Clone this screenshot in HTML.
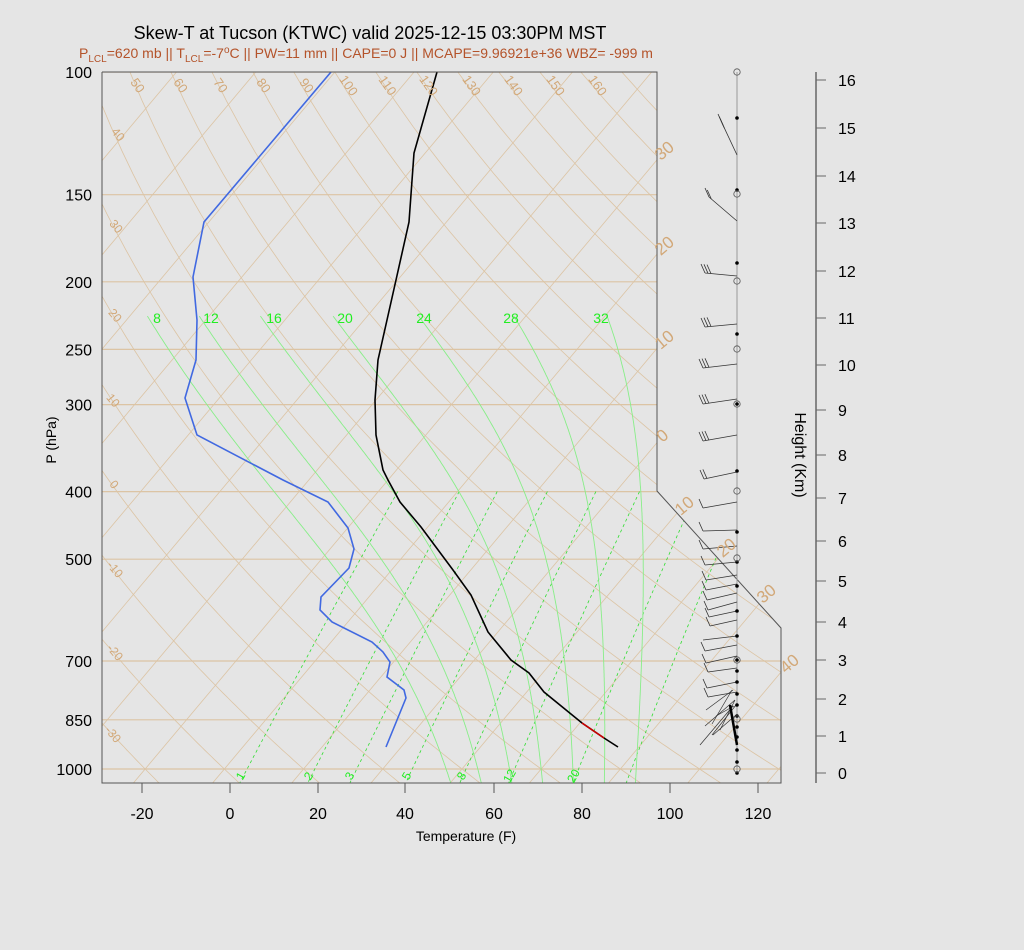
<!DOCTYPE html>
<html><head><meta charset="utf-8"><style>
html,body{margin:0;padding:0;background:#e5e5e5;width:1024px;height:950px;overflow:hidden}
svg{display:block;font-family:"Liberation Sans",sans-serif}
</style></head><body>
<svg id="s" width="1024" height="950" xmlns="http://www.w3.org/2000/svg">
<rect width="1024" height="950" fill="#e5e5e5"/>
<defs><clipPath id="cp"><polygon points="102,72 657,72 657,491 781,628 781,783 102,783"/></clipPath></defs>
<g id="grid" clip-path="url(#cp)"></g>
<g id="top"></g>
</svg>
<script>
const NS="http://www.w3.org/2000/svg";
const g=document.getElementById('grid'),t=document.getElementById('top');
const Y=p=>72+(Math.log10(p)-2)*697;
const X=(Tc,y)=>371+7.92*Tc+(783-y)/1.19;
function el(par,name,attrs,txt){const e=document.createElementNS(NS,name);for(const k in attrs)e.setAttribute(k,attrs[k]);if(txt!==undefined)e.textContent=txt;par.appendChild(e);return e;}
function pl(par,pts,st){el(par,'polyline',Object.assign({points:pts.map(p=>p[0].toFixed(1)+','+p[1].toFixed(1)).join(' '),fill:'none'},st));}
const tan='#dcc4a4';
[100,150,200,250,300,400,500,700,850,1000].forEach(p=>{const y=Y(p);pl(g,[[102,y],[781,y]],{stroke:tan,'stroke-width':1.2});});
for(let T=-140;T<=60;T+=10){pl(g,[[X(T,783),783],[X(T,0),0]],{stroke:tan,'stroke-width':0.8});}
for(let th=-60;th<=200;th+=10){const pts=[];for(let p=90;p<=1060;p+=10){const T=(th+273.15)*Math.pow(p/1000,0.286)-273.15;const y=Y(p);pts.push([X(T,y),y]);}pl(g,pts,{stroke:tan,'stroke-width':0.8});}
function td(e){const l=Math.log(e/6.112);return 243.5*l/(17.67-l);}
[1,2,3,5,8,12,20,30].forEach(w=>{const pts=[];for(let p=400;p<=1060;p+=10){const e=w*p/(622+w);const y=Y(p);pts.push([X(td(e),y),y]);}pl(g,pts,{stroke:'#33dd33','stroke-width':0.8,'stroke-dasharray':'3,3'});});
function es(T){return 6.112*Math.exp(17.67*T/(T+243.5));}
[8,12,16,20,24,28,32].forEach(tw=>{const pts=[];
 function dTdp(T,p){const rs=0.622*es(T-273.15)/(p-es(T-273.15));const Lv=2.5e6,Rd=287,cp=1004;return (Rd*T+Lv*rs)/(cp+Lv*Lv*rs*0.622/(Rd*T*T))/p;}
 let Tt=tw+273.15,pp=1000;const down=[];while(pp<1060){Tt+=dTdp(Tt,pp)*2;pp+=2;down.push([pp,Tt]);}
 Tt=tw+273.15;pp=1000;const up=[[1000,Tt]];while(pp>225){Tt-=dTdp(Tt,pp)*2;pp-=2;up.push([pp,Tt]);}
 down.reverse().concat(up).forEach(q=>{const y=Y(q[0]);pts.push([X(q[1]-273.15,y),y]);});
 pl(g,pts,{stroke:'#88ee88','stroke-width':0.9});});
pl(g,[[331,72],[204,222],[193,277],[197,320],[196,360],[185,398],[197,435],[283,480],[328,502],[348,528],[354,549],[349,568],[321,597],[320,610],[332,622],[372,642],[383,652],[390,662],[387,677],[404,690],[406,698],[386,747]],{stroke:'#4169e1','stroke-width':1.6});
pl(g,[[437,72],[414,153],[409,222],[396,280],[387,320],[378,360],[375,400],[376,435],[383,470],[388,480],[400,502],[421,527],[453,570],[471,595],[488,632],[511,660],[529,673],[544,692],[582,723],[604,738],[618,747]],{stroke:'#000','stroke-width':1.6});
pl(g,[[582,723],[604,738]],{stroke:'#cc0000','stroke-width':1.6});
pl(t,[[102,72],[657,72],[657,491],[781,628],[781,783],[102,783],[102,72]],{stroke:'#555','stroke-width':1});
pl(t,[[737,72],[737,773]],{stroke:'#999','stroke-width':1});
function barb(y,tx,ty,n){const dx=tx-737,dy=ty-y,L=Math.hypot(dx,dy),ux=dx/L,uy=dy/L;pl(t,[[737,y],[tx,ty]],{stroke:'#333','stroke-width':0.8});
 for(let i=0;i<n;i++){const bx=tx-ux*i*3,by=ty-uy*i*3;pl(t,[[bx,by],[bx-4,by-9]],{stroke:'#333','stroke-width':0.8});}}
[[155,722,123,3],[221,709,197,2],[276,705,273,3],[324,705,327,3],[364,703,368,3],[399,703,404,3],[435,703,441,3],[472,704,479,2],[502,703,508,1],[530,703,531,1],[546,703,549,1],[562,705,565,1],[575,706,580,1],[584,706,590,1],[593,707,600,1],[602,708,610,1],[611,709,617,1],[620,710,626,1],[636,703,640,0],[645,705,651,1],[656,706,663,1],[668,708,672,1],[682,707,688,1],[692,708,697,1]].forEach(b=>barb(...b));
[[735,700,705,726],[733,690,706,710],[732,690,712,724],[735,700,720,730],[736,705,712,735],[734,706,716,716],[733,706,700,745],[736,715,713,735]].forEach(a=>pl(t,[[a[0],a[1]],[a[2],a[3]]],{stroke:'#333','stroke-width':0.7}));
pl(t,[[730,705],[737,745]],{stroke:'#000','stroke-width':2.5});
[118,190,263,334,404,471,532,562,586,611,636,660,671,682,694,705,716,727,737,750,762,773].forEach(y=>el(t,'circle',{cx:737,cy:y,r:1.8,fill:'#000'}));
[72,194,281,349,404,491,558,660,719,769].forEach(y=>el(t,'circle',{cx:737,cy:y,r:3.2,fill:'none',stroke:'#555','stroke-width':0.8}));
pl(t,[[816,72],[816,783]],{stroke:'#666','stroke-width':1.5});
[[16,80],[15,128],[14,176],[13,223],[12,271],[11,318],[10,365],[9,410],[8,455],[7,498],[6,541],[5,581],[4,622],[3,660],[2,699],[1,736],[0,773]].forEach(h=>{pl(t,[[816,h[1]],[826,h[1]]],{stroke:'#666'});el(t,'text',{x:838,y:h[1]+6,'font-size':16},h[0]);});
el(t,'text',{x:0,y:0,'font-size':16,transform:'translate(795,455) rotate(90)','text-anchor':'middle'},'Height (Km)');
[[100,'100'],[150,'150'],[200,'200'],[250,'250'],[300,'300'],[400,'400'],[500,'500'],[700,'700'],[850,'850'],[1000,'1000']].forEach(a=>{const y=Y(a[0]);el(t,'text',{x:92,y:y+6,'font-size':16,'text-anchor':'end'},a[1]);});
el(t,'text',{x:0,y:0,'font-size':14,transform:'translate(56,440) rotate(-90)','text-anchor':'middle'},'P (hPa)');
[[-20,142],[0,230],[20,318],[40,405],[60,494],[80,582],[100,670],[120,758]].forEach(a=>{pl(t,[[a[1],783],[a[1],793]],{stroke:'#555'});el(t,'text',{x:a[1],y:819,'font-size':16,'text-anchor':'middle'},a[0]);});
el(t,'text',{x:466,y:841,'font-size':14,'text-anchor':'middle'},'Temperature (F)');
const lt='#d2a878';
[[50,134,88],[60,177,88],[70,217,88],[80,260,88],[90,303,88],[100,345,88],[110,384,88],[120,425,88],[130,468,88],[140,510,88],[150,552,88],[160,594,88]].forEach(a=>el(t,'text',{x:0,y:0,'font-size':13,fill:lt,transform:`translate(${a[1]},${a[2]}) rotate(55)`,'text-anchor':'middle'},a[0]));
[[40,115,137],[30,113,229],[20,112,318],[10,110,403],[0,111,487],[-10,112,572],[-20,112,655],[-30,110,737]].forEach(a=>el(t,'text',{x:0,y:0,'font-size':12,fill:lt,transform:`translate(${a[1]},${a[2]}) rotate(50)`,'text-anchor':'middle'},a[0]));
[[30,668,155],[20,668,250],[10,668,344],[0,666,440],[10,688,510],[20,730,552],[30,770,598],[40,793,668]].forEach(a=>el(t,'text',{x:0,y:0,'font-size':17,fill:lt,transform:`translate(${a[1]},${a[2]}) rotate(-40)`,'text-anchor':'middle'},a[0]));
[[8,157],[12,211],[16,274],[20,345],[24,424],[28,511],[32,601]].forEach(a=>el(t,'text',{x:a[1],y:323,'font-size':14,fill:'#22ee22','text-anchor':'middle'},a[0]));
[[1,244],[2,312],[3,353],[5,410],[8,465],[12,513],[20,577]].forEach(a=>el(t,'text',{x:0,y:0,'font-size':12,fill:'#22ee22',transform:`translate(${a[1]},${778}) rotate(-60)`,'text-anchor':'middle'},a[0]));
</script>
<svg width="1024" height="70" style="position:absolute;left:0;top:0" xmlns="http://www.w3.org/2000/svg">
<text x="370" y="39" font-family="Liberation Sans,sans-serif" font-size="18" text-anchor="middle">Skew-T at Tucson (KTWC) valid 2025-12-15 03:30PM MST</text>
<text x="366" y="58" font-family="Liberation Sans,sans-serif" font-size="14" fill="#b4532a" text-anchor="middle">P<tspan font-size="10" dy="4">LCL</tspan><tspan dy="-4">=620 mb || T</tspan><tspan font-size="10" dy="4">LCL</tspan><tspan dy="-4">=-7</tspan><tspan font-size="10" dy="-5">o</tspan><tspan dy="5">C || PW=11 mm || CAPE=0 J || MCAPE=9.96921e+36 WBZ= -999 m</tspan></text>
</svg>
</body></html>
